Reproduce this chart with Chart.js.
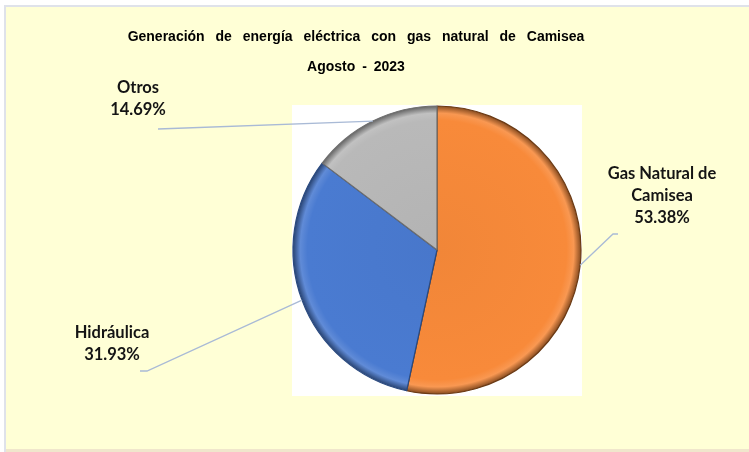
<!DOCTYPE html>
<html>
<head>
<meta charset="utf-8">
<script src="https://cdn.jsdelivr.net/npm/chart.js@4.4.0/dist/chart.umd.min.js"></script>
<style>
  html, body { margin: 0; padding: 0; background: #ffffff; }
  #wrap { position: relative; width: 749px; height: 452px; }
</style>
</head>
<body>
<div id="wrap"><canvas id="pieChart" width="749" height="452"></canvas></div>
<script>
// Datos del gráfico
const categorias = ['Gas Natural de Camisea', 'Hidráulica', 'Otros'];
const porcentajes = [53.38, 31.93, 14.69];
const etiquetas = [['Gas Natural de', 'Camisea'], ['Hidráulica'], ['Otros']];
const titulo = ['Generación de energía eléctrica con gas natural de Camisea', 'Agosto - 2023'];

const colores = ['#F88A3A', '#4A7BD1', '#B9B9B9'];
const bordes = ['#6b3a14', '#2a4a80', '#6e6e6e'];

// posición de cada etiqueta y codo de la línea guía (coordenadas de la página)
const posEtiquetas = [
    { x: 662, y: 174, codo: [[618, 234], [613, 234]] },
    { x: 112, y: 333, codo: [[140, 371], [147, 371]] },
    { x: 138, y: 88,  codo: [[158, 129]] }
];

function sombra(hex, f) {
    const n = parseInt(hex.slice(1), 16);
    let r = (n >> 16) & 255, g = (n >> 8) & 255, b = n & 255;
    if (f < 0) { r *= 1 + f; g *= 1 + f; b *= 1 + f; }
    else { r += (255 - r) * f; g += (255 - g) * f; b += (255 - b) * f; }
    return `rgb(${Math.round(r)},${Math.round(g)},${Math.round(b)})`;
}

const fondoPlugin = {
    id: 'fondo',
    beforeDraw(chart) {
        const ctx = chart.ctx;
        ctx.save();
        ctx.fillStyle = '#ffffff';
        ctx.fillRect(0, 0, chart.width, chart.height);
        ctx.fillStyle = '#dfe2ea';
        ctx.fillRect(4, 5, chart.width - 4, 2);
        ctx.fillRect(4, 5, 2, chart.height - 5);
        ctx.fillStyle = '#FFFFD6';
        ctx.fillRect(6, 7, chart.width - 6, 442);
        ctx.fillStyle = '#f0e6cc';
        ctx.fillRect(6, 449, chart.width - 6, 3);

        // cuadro blanco detrás del pastel
        const arc = chart.getDatasetMeta(0).data[0];
        if (arc) {
            const r = arc.outerRadius;
            ctx.fillStyle = '#ffffff';
            ctx.fillRect(arc.x - r - 1, arc.y - r - 1, 2 * r + 2, 2 * r + 3);
        }

        // título
        ctx.fillStyle = '#000000';
        ctx.font = 'bold 14px "Liberation Sans", Arial, sans-serif';
        ctx.textAlign = 'center';
        ctx.textBaseline = 'middle';
        ctx.wordSpacing = '7px';
        ctx.fillText(titulo[0], 356, 37);
        ctx.wordSpacing = '3px';
        ctx.fillText(titulo[1], 356, 67);
        ctx.restore();
    },
    afterDatasetsDraw(chart) {
        const ctx = chart.ctx;
        const meta = chart.getDatasetMeta(0);
        ctx.save();
        meta.data.forEach((arc, i) => {
            const p = posEtiquetas[i];
            const mid = (arc.startAngle + arc.endAngle) / 2;
            const ex = arc.x + Math.cos(mid) * arc.outerRadius;
            const ey = arc.y + Math.sin(mid) * arc.outerRadius;
            ctx.strokeStyle = '#a9bad6';
            ctx.lineWidth = 1.3;
            ctx.beginPath();
            ctx.moveTo(p.codo[0][0], p.codo[0][1]);
            p.codo.slice(1).forEach(c => ctx.lineTo(c[0], c[1]));
            ctx.lineTo(ex, ey);
            ctx.stroke();

            ctx.fillStyle = '#141414';
            ctx.font = 'bold 16.5px Lato, "Open Sans", sans-serif';
            ctx.textAlign = 'center';
            ctx.textBaseline = 'middle';
            const lineas = etiquetas[i].concat([porcentajes[i].toFixed(2) + '%']);
            lineas.forEach((t, k) => ctx.fillText(t, p.x, p.y + k * 22));
        });
        ctx.restore();
    }
};

const ctxPie = document.getElementById('pieChart').getContext('2d');
const pieChart = new Chart(ctxPie, {
    type: 'pie',
    data: {
        labels: categorias,
        datasets: [{
            data: porcentajes,
            backgroundColor: (c) => {
                const base = colores[c.dataIndex];
                const area = c.chart.chartArea;
                if (!area) return base;
                const cx = (area.left + area.right) / 2;
                const cy = (area.top + area.bottom) / 2;
                const g = c.chart.ctx.createRadialGradient(cx, cy, 0, cx, cy, 144);
                g.addColorStop(0, sombra(base, -0.03));
                g.addColorStop(0.9, base);
                g.addColorStop(0.95, sombra(base, 0.12));
                g.addColorStop(1, sombra(base, -0.45));
                return g;
            },
            borderColor: bordes,
            borderWidth: 1.2,
            radius: 144
        }]
    },
    options: {
        responsive: false,
        animation: false,
        layout: { padding: { left: 287, right: 162, top: 100, bottom: 52 } },
        plugins: {
            legend: { display: false },
            title: { display: false },
            tooltip: { enabled: false }
        }
    },
    plugins: [fondoPlugin]
});
</script>
</body>
</html>
